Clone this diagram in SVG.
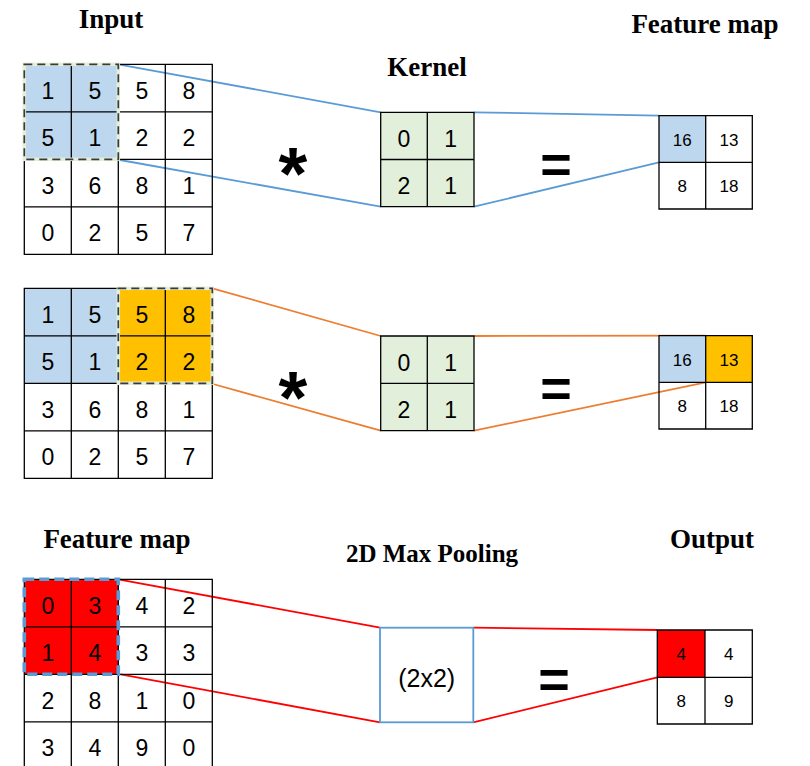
<svg xmlns="http://www.w3.org/2000/svg" width="810" height="766" viewBox="0 0 810 766">
<style>
.bg{fill:#ffffff}
.blue{fill:#bdd7ee}
.orange{fill:#ffc000}
.red{fill:#ff0000}
.green{fill:#e2efda}
.grid{fill:none;stroke:#000;stroke-width:1.3}
.num{font-family:"Liberation Sans",Arial,sans-serif;font-size:23px;fill:#000;text-anchor:middle}
.snum{font-family:"Liberation Sans",Arial,sans-serif;font-size:17px;fill:#000;text-anchor:middle}
.lbl{font-family:"Liberation Serif","Times New Roman",serif;font-weight:bold;font-size:27px;fill:#000;text-anchor:middle}
.op{font-family:"Liberation Sans",Arial,sans-serif;font-weight:bold;fill:#000;text-anchor:middle}
.cb{stroke:#5b9bd5;stroke-width:1.8;fill:none}
.co{stroke:#ed7d31;stroke-width:1.8;fill:none}
.cr{stroke:#ff0000;stroke-width:1.8;fill:none}
.hlg{fill:none;stroke:#e2efda;stroke-width:3.5}
.hld{fill:none;stroke:#3a3a3a;stroke-width:1.7;stroke-dasharray:8 5}
.hlb{fill:none;stroke:#5b9bd5;stroke-width:3.6;stroke-dasharray:10 5}
</style>
<rect class="bg" x="0" y="0" width="810" height="766"/>

<g id="labels">
<text class="lbl" x="111" y="28">Input</text>
<text class="lbl" x="427" y="76">Kernel</text>
<text class="lbl" x="705" y="33">Feature map</text>
<text class="lbl" x="117" y="548">Feature map</text>
<text class="lbl" x="432" y="562" style="font-size:25px">2D Max Pooling</text>
<text class="lbl" x="712" y="548">Output</text>
</g>

<g id="connectors">
<line class="cb" x1="118.3" y1="64.3" x2="380.7" y2="112.3"/>
<line class="cb" x1="120" y1="160" x2="380.7" y2="206.7"/>
<line class="cb" x1="474" y1="112.3" x2="659" y2="115.7"/>
<line class="cb" x1="474" y1="206.7" x2="659" y2="162.3"/>
<line class="co" x1="212.3" y1="288.3" x2="380.7" y2="336"/>
<line class="co" x1="213" y1="384" x2="380.7" y2="430.7"/>
<line class="co" x1="474" y1="336" x2="705.7" y2="335.7"/>
<line class="co" x1="474" y1="430.7" x2="705.7" y2="382.3"/>
<line class="cr" x1="118.3" y1="579.3" x2="380" y2="627.7"/>
<line class="cr" x1="120.7" y1="674.3" x2="380" y2="722.3"/>
<line class="cr" x1="473.3" y1="627.7" x2="657.3" y2="630"/>
<line class="cr" x1="473.3" y1="722.3" x2="657.3" y2="677.3"/>
</g>

<g id="input1">
<rect class="blue" x="24.3" y="64.3" width="94" height="95"/>
<path class="grid" d="M24.3 64.3H212.3V254.3H24.3Z M71.3 64.3V254.3 M118.3 64.3V254.3 M165.3 64.3V254.3 M24.3 111.8H212.3 M24.3 159.3H212.3 M24.3 206.8H212.3"/>
<rect class="hlg" x="24.3" y="64.3" width="94" height="95"/>
<rect class="hld" x="24.3" y="64.3" width="94" height="95"/>
<text class="num" x="47.8" y="98.5">1</text><text class="num" x="94.8" y="98.5">5</text><text class="num" x="141.8" y="98.5">5</text><text class="num" x="188.8" y="98.5">8</text>
<text class="num" x="47.8" y="146">5</text><text class="num" x="94.8" y="146">1</text><text class="num" x="141.8" y="146">2</text><text class="num" x="188.8" y="146">2</text>
<text class="num" x="47.8" y="193.5">3</text><text class="num" x="94.8" y="193.5">6</text><text class="num" x="141.8" y="193.5">8</text><text class="num" x="188.8" y="193.5">1</text>
<text class="num" x="47.8" y="241">0</text><text class="num" x="94.8" y="241">2</text><text class="num" x="141.8" y="241">5</text><text class="num" x="188.8" y="241">7</text>
</g>

<g id="op1">
<text class="op" x="293" y="199" style="font-size:74px">*</text>
<text class="op" x="556" y="183" style="font-size:54px">=</text>
</g>

<g id="kernel1">
<rect class="green" x="380.7" y="112.3" width="93.3" height="94.4"/>
<path class="grid" d="M380.7 112.3H474V206.7H380.7Z M427.3 112.3V206.7 M380.7 159.5H474"/>
<text class="num" x="404" y="146.5">0</text><text class="num" x="450.7" y="146.5">1</text>
<text class="num" x="404" y="193.5">2</text><text class="num" x="450.7" y="193.5">1</text>
</g>

<g id="fmap1">
<rect class="blue" x="659" y="115.7" width="46.7" height="46.6"/>
<path class="grid" d="M659 115.7H752.3V209H659Z M705.7 115.7V209 M659 162.3H752.3"/>
<text class="snum" x="682.3" y="145.5">16</text><text class="snum" x="729" y="145.5">13</text>
<text class="snum" x="682.3" y="192.2">8</text><text class="snum" x="729" y="192.2">18</text>
</g>

<g id="input2">
<rect class="blue" x="24.3" y="288.3" width="94" height="95"/>
<rect class="orange" x="118.3" y="288.3" width="94" height="95"/>
<path class="grid" d="M24.3 288.3H212.3V478.3H24.3Z M71.3 288.3V478.3 M118.3 288.3V478.3 M165.3 288.3V478.3 M24.3 335.8H212.3 M24.3 383.3H212.3 M24.3 430.8H212.3"/>
<rect class="hlg" x="118.3" y="288.3" width="94" height="95"/>
<rect class="hld" x="118.3" y="288.3" width="94" height="95"/>
<text class="num" x="47.8" y="322.5">1</text><text class="num" x="94.8" y="322.5">5</text><text class="num" x="141.8" y="322.5">5</text><text class="num" x="188.8" y="322.5">8</text>
<text class="num" x="47.8" y="370">5</text><text class="num" x="94.8" y="370">1</text><text class="num" x="141.8" y="370">2</text><text class="num" x="188.8" y="370">2</text>
<text class="num" x="47.8" y="417.5">3</text><text class="num" x="94.8" y="417.5">6</text><text class="num" x="141.8" y="417.5">8</text><text class="num" x="188.8" y="417.5">1</text>
<text class="num" x="47.8" y="465">0</text><text class="num" x="94.8" y="465">2</text><text class="num" x="141.8" y="465">5</text><text class="num" x="188.8" y="465">7</text>
</g>

<g id="op2">
<text class="op" x="293" y="423" style="font-size:74px">*</text>
<text class="op" x="556" y="407" style="font-size:54px">=</text>
</g>

<g id="kernel2">
<rect class="green" x="380.7" y="336" width="93.3" height="94.7"/>
<path class="grid" d="M380.7 336H474V430.7H380.7Z M427.3 336V430.7 M380.7 383.3H474"/>
<text class="num" x="404" y="370.5">0</text><text class="num" x="450.7" y="370.5">1</text>
<text class="num" x="404" y="417.5">2</text><text class="num" x="450.7" y="417.5">1</text>
</g>

<g id="fmap2">
<rect class="blue" x="659" y="335.7" width="46.7" height="46.6"/>
<rect class="orange" x="705.7" y="335.7" width="46.6" height="46.6"/>
<path class="grid" d="M659 335.7H752.3V429H659Z M705.7 335.7V429 M659 382.3H752.3"/>
<text class="snum" x="682.3" y="365.5">16</text><text class="snum" x="729" y="365.5">13</text>
<text class="snum" x="682.3" y="412.2">8</text><text class="snum" x="729" y="412.2">18</text>
</g>

<g id="fmap3">
<rect class="red" x="24.3" y="579.3" width="94" height="95"/>
<path class="grid" d="M24.3 579.3H212.3V769.3H24.3Z M71.3 579.3V769.3 M118.3 579.3V769.3 M165.3 579.3V769.3 M24.3 626.8H212.3 M24.3 674.3H212.3 M24.3 721.8H212.3"/>
<rect class="hlb" x="24.3" y="579.3" width="94" height="95"/>
<text class="num" x="47.8" y="613.5">0</text><text class="num" x="94.8" y="613.5">3</text><text class="num" x="141.8" y="613.5">4</text><text class="num" x="188.8" y="613.5">2</text>
<text class="num" x="47.8" y="661">1</text><text class="num" x="94.8" y="661">4</text><text class="num" x="141.8" y="661">3</text><text class="num" x="188.8" y="661">3</text>
<text class="num" x="47.8" y="708.5">2</text><text class="num" x="94.8" y="708.5">8</text><text class="num" x="141.8" y="708.5">1</text><text class="num" x="188.8" y="708.5">0</text>
<text class="num" x="47.8" y="756">3</text><text class="num" x="94.8" y="756">4</text><text class="num" x="141.8" y="756">9</text><text class="num" x="188.8" y="756">0</text>
</g>

<g id="pool">
<rect x="380" y="627.7" width="93.3" height="94.6" fill="#ffffff" stroke="#5b9bd5" stroke-width="1.8"/>
<text class="num" x="426.7" y="686.5" style="font-size:25px">(2x2)</text>
</g>

<g id="op3">
<text class="op" x="554" y="698" style="font-size:54px">=</text>
</g>

<g id="output">
<rect class="red" x="657.3" y="630" width="47.7" height="47.3"/>
<path class="grid" d="M657.3 630H752.3V724H657.3Z M705 630V724 M657.3 677.3H752.3"/>
<text class="snum" x="681.2" y="660">4</text><text class="snum" x="728.7" y="660">4</text>
<text class="snum" x="681.2" y="707">8</text><text class="snum" x="728.7" y="707">9</text>
</g>
</svg>
